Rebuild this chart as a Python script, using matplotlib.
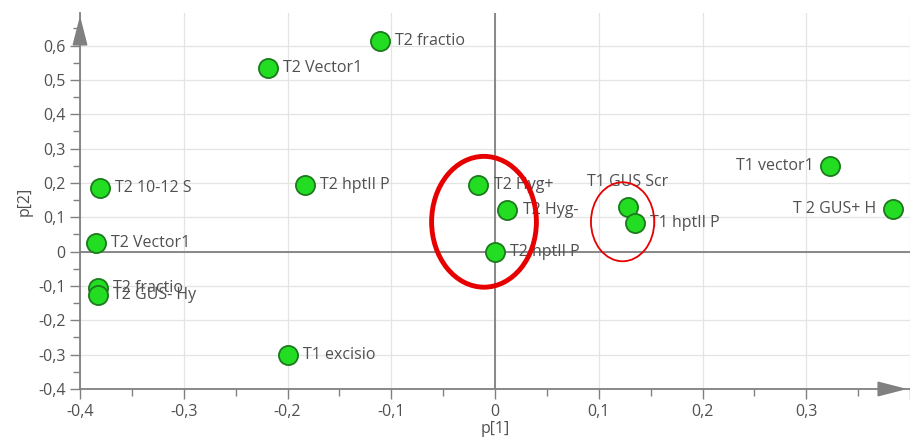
import matplotlib.pyplot as plt
from matplotlib.patches import Ellipse
from matplotlib.ticker import MultipleLocator, FuncFormatter

plt.rcParams["font.family"] = ["Open Sans", "DejaVu Sans"]

# PCA loadings p[1] / p[2]
names = [
    "T2 fractio", "T2 Vector1", "T2 10-12 S", "T2 hptII P", "T2 Vector1",
    "T2 fractio", "T2 GUS- Hy", "T1 excisio", "T2 Hyg+", "T2 Hyg-",
    "T2 hptII P", "T1 GUS Scr", "T1 hptII P", "T1 vector1", "T 2 GUS+ H",
]
p1 = [-0.111, -0.219, -0.381, -0.183, -0.385, -0.383, -0.383, -0.200,
      -0.016, 0.012, 0.000, 0.128, 0.135, 0.323, 0.384]
p2 = [0.613, 0.535, 0.186, 0.195, 0.026, -0.105, -0.125, -0.300,
      0.195, 0.122, 0.000, 0.131, 0.084, 0.250, 0.125]
# label placement: r = right of point, l = left, t = above
label_side = ["r", "r", "r", "r", "r", "r", "r", "r", "r", "r", "r",
              "t", "r", "l", "l"]

GRAY = "#808080"
TXT = "#505050"
FS = 11.5

fig = plt.figure(figsize=(9.1, 4.44), dpi=100)
ax = fig.add_axes([80 / 910, 55 / 444, 830 / 910, 376 / 444])
ax.set_xlim(-0.4, 0.4)
ax.set_ylim(-0.4, 0.695)

ax.xaxis.set_major_locator(MultipleLocator(0.1))
ax.xaxis.set_minor_locator(MultipleLocator(0.05))
ax.yaxis.set_major_locator(MultipleLocator(0.1))
ax.yaxis.set_minor_locator(MultipleLocator(0.05))


def comma(v, pos):
    if abs(v) < 1e-9:
        return "0"
    return f"{v:.1f}".replace(".", ",")


def comma_x(v, pos):
    if v > 0.35:
        return ""  # arrow end of the p[1] axis
    return comma(v, pos)


ax.xaxis.set_major_formatter(FuncFormatter(comma_x))
ax.yaxis.set_major_formatter(FuncFormatter(comma))
ax.tick_params(which="major", direction="out", length=7, width=1, color=GRAY,
               labelcolor=TXT, labelsize=FS)
ax.tick_params(which="minor", direction="out", length=5, width=1, color=GRAY)

ax.grid(True, which="major", color="#e4e4e4", lw=0.9)
ax.set_axisbelow(True)
for s in ("top", "right"):
    ax.spines[s].set_visible(False)
for s in ("left", "bottom"):
    ax.spines[s].set_color(GRAY)
    ax.spines[s].set_linewidth(1.3)

# axis arrowheads
head = "-|>,head_length=1.4,head_width=0.36"
ax.annotate("", xy=(1.0, 0), xytext=(0.97, 0), xycoords="axes fraction",
            arrowprops=dict(arrowstyle=head, color=GRAY, lw=1.3,
                            mutation_scale=13),
            annotation_clip=False)
ax.annotate("", xy=(0, 1.0), xytext=(0, 0.94), xycoords="axes fraction",
            arrowprops=dict(arrowstyle=head, color=GRAY, lw=1.3,
                            mutation_scale=13),
            annotation_clip=False)

ax.axhline(0, color=GRAY, lw=1.3, zorder=1)
ax.axvline(0, color=GRAY, lw=1.3, zorder=1)

ax.scatter(p1, p2, s=190, c="#22dd22", edgecolors="#1e7a1e", linewidths=1.3,
           zorder=3, clip_on=False)

for n, x, y, side in zip(names, p1, p2, label_side):
    if side == "r":
        ax.annotate(n, (x, y), xytext=(11, 0), textcoords="offset points",
                    ha="left", va="center", fontsize=FS, color=TXT, zorder=4)
    elif side == "l":
        ax.annotate(n, (x, y), xytext=(-12, 0), textcoords="offset points",
                    ha="right", va="center", fontsize=FS, color=TXT, zorder=4)
    else:
        ax.annotate(n, (x, y), xytext=(0, 18), textcoords="offset points",
                    ha="center", va="center", fontsize=FS, color=TXT, zorder=4)

# highlighted groups
ax.add_patch(Ellipse((-0.0106, 0.087), 0.101, 0.381, fill=False,
                     ec="#e60000", lw=3.5, zorder=5))
ax.add_patch(Ellipse((0.123, 0.087), 0.061, 0.23, fill=False,
                     ec="#e60000", lw=1.3, zorder=5))

ax.set_xlabel("p[1]", fontsize=FS, color=TXT, labelpad=1)
ax.set_ylabel("p[2]", fontsize=FS, color=TXT, labelpad=4)

fig.savefig("out.png", dpi=100)
